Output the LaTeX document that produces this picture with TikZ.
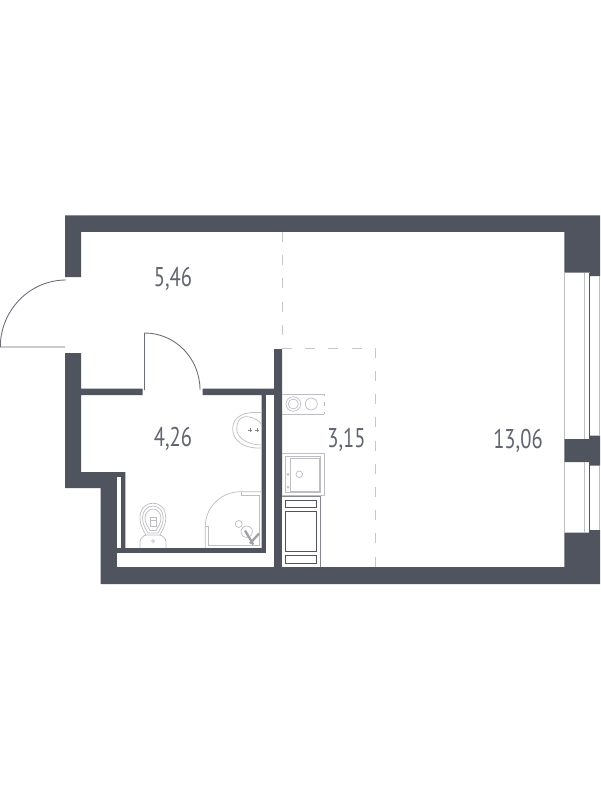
\documentclass[tikz,border=0pt]{standalone}
\usepackage{fontspec}
\setmainfont[FakeStretch=0.76]{PT Sans}
\definecolor{wallcol}{HTML}{50545F}
\definecolor{fixcol}{HTML}{BCBEC3}
\definecolor{dashcol}{HTML}{C6C7CB}
\tikzset{
wallfill/.style={fill=wallcol},
gapfill/.style={fill=white},
fixline/.style={draw=fixcol, line width=0.4pt},
darkline/.style={draw=wallcol, line width=0.5pt},
doorline/.style={draw=wallcol!85, line width=0.5pt},
zoneline/.style={draw=dashcol, line width=0.7pt, dash pattern=on 5.7pt off 7.5pt},
arealabel/.style={text=wallcol!90, font=\fontsize{15.4}{15.4}\selectfont, inner sep=0pt}
}
\begin{document}
\begin{tikzpicture}[x=0.02cm, y=-0.02cm]
\useasboundingbox (0,0) rectangle (600,800);
\fill[white] (0,0) rectangle (600,800);
\fill[wallfill] (65,215.5) -- (600,215.5) -- (600,276) -- (590,276) -- (590,272.7) -- (564.3,272.7) -- (564.3,232) -- (81,232) -- (81,277) -- (65,277) -- cycle;
\fill[wallfill] (65,353) -- (81,353) -- (81,388.5) -- (142.5,388.5) -- (142.5,395) -- (81,395) -- (81,472) -- (125.3,472) -- (125.3,548) -- (261.7,548) -- (261.7,395) -- (202.5,395) -- (202.5,388.5) -- (274,388.5) -- (274,349) -- (282,349) -- (282,567) -- (564.3,567) -- (564.3,532.7) -- (590,532.7) -- (590,530) -- (600,530) -- (600,584) -- (100.7,584) -- (100.7,488) -- (65,488) -- cycle;
\fill[wallfill] (564.3,439) -- (590,439) -- (590,435.7) -- (600,435.7) -- (600,465.7) -- (590,465.7) -- (590,462) -- (564.3,462) -- cycle;
\fill[gapfill] (117,477) rectangle (121,548);
\fill[gapfill] (117,553) rectangle (274,567);
\fill[gapfill] (266,395) rectangle (274,567);
\foreach \a/\b/\c/\d in {272.7/439/276/435.7, 462/532.7/465.7/530} {
\draw[fixline] (564.7,\a) -- (564.7,\b);
\draw[fixline] (584,\a) -- (584,\b);
\draw[darkline] (589.5,\a) -- (589.5,\b);
\draw[fixline] (599,\c) -- (599,\d);
}
\draw[zoneline] (282.5,232) -- (282.5,349);
\draw[zoneline] (282,348.7) -- (375.6,348.7) -- (375.6,567);
\draw[doorline] (66,280) .. controls (29.5,280) and (0.3,310.5) .. (0.3,347) -- (65,347);
\draw[doorline] (144.5,390) -- (144.5,333) .. controls (175,333) and (200,358) .. (200,390);
\draw[fixline] (282,394.3) -- (324,394.3) (282,414) -- (324,414);
\draw[fixline] (324,394.3) -- (324,396) (324,402) -- (324,406) (324,412) -- (324,414);
\draw[fixline] (293.3,404) circle (7.3);
\draw[fixline] (293.3,404) circle (5);
\draw[fixline] (311.3,404) circle (6);
\draw[fixline] (282,453.3) -- (324,453.3) -- (324,495) -- (282,495);
\draw[fixline] (285.3,456.7) rectangle (320.7,492.7);
\draw[fixline] (290.7,458.7) rectangle (319,491);
\draw[fixline] (299.3,474.3) circle (3.3);
\foreach \j in {474.3,487} {
\draw[fixline] (288,\j) circle (1);
}
\fill[white] (282,496) rectangle (320.7,567);
\draw[darkline, draw opacity=0.7] (282,496) -- (320.7,496) -- (320.7,567);
\foreach \a/\b in {500/507.3,511.3/551.3,555.3/563.3} {
\draw[darkline] (285.3,\a) rectangle (316.7,\b);
}
\draw[fixline] (261.7,412.7) .. controls (245,411) and (232.7,416) .. (232.7,429) .. controls (232.7,442) and (246,449) .. (261.7,448);
\draw[fixline] (261.7,425) .. controls (258,418) and (250,416.5) .. (245,416.7) .. controls (239,417) and (236.7,423) .. (236.7,429) .. controls (236.7,438) and (248,445) .. (261.7,445);
\foreach \i in {250,257} {
\draw[fixline, draw=wallcol!70] (\i-2,430) -- (\i+2,430) (\i,428) -- (\i,432);
}
\draw[fixline] (205.3,548) -- (205.3,526.7) .. controls (205.3,507) and (221,491.7) .. (241,491.7) -- (261.7,491.7);
\draw[fixline] (205.3,526.7) -- (208.3,526.7) -- (208.3,545.7) -- (259,545.7) -- (259,495) -- (241,495) -- (241,491.7);
\draw[fixline] (238.7,524) circle (3.5);
\draw[fixline] (246.7,531.7) circle (5.7);
\draw[draw=wallcol!55, line width=1.3pt] (245,530.5) -- (253.3,544.5) (259,533.5) -- (250,543.5);
\draw[fixline] (153,503.3) .. controls (145,503.3) and (140,509) .. (140,518) .. controls (140,526) and (144,531) .. (146,535);
\draw[fixline] (153,503.3) .. controls (161,503.3) and (165.7,509) .. (165.7,518) .. controls (165.7,526) and (162,531) .. (160,535);
\draw[fixline] (153,506) .. controls (147,506) and (142.5,511) .. (142.5,518) .. controls (142.5,525) and (146,529) .. (148,533) -- (158,533) .. controls (160,529) and (163.2,525) .. (163.2,518) .. controls (163.2,511) and (159,506) .. (153,506);
\draw[fixline] (153,509) .. controls (149,509) and (145,513) .. (145,518) .. controls (145,523) and (148,527) .. (150,530.5) -- (156,530.5) .. controls (158,527) and (161,523) .. (161,518) .. controls (161,513) and (157,509) .. (153,509);
\draw[fixline] (150,517) rectangle (156,526);
\draw[fixline] (150,520) -- (156,520);
\draw[fixline] (140,548) -- (140,542) .. controls (140,538) and (144,535) .. (147,535) -- (159,535) .. controls (162,535) and (166,538) .. (166,542) -- (166,548);
\draw[fixline] (153,539.5) -- (154.5,541) -- (153,542.5) -- (151.5,541) -- cycle;
\node[arealabel] (hall) at (173,279) {5,46};
\node[arealabel] (bath) at (173,439) {4,26};
\node[arealabel] (kitchen) at (346.5,440) {3,15};
\node[arealabel] (living) at (518,441) {13,06};
\end{tikzpicture}
\end{document}
